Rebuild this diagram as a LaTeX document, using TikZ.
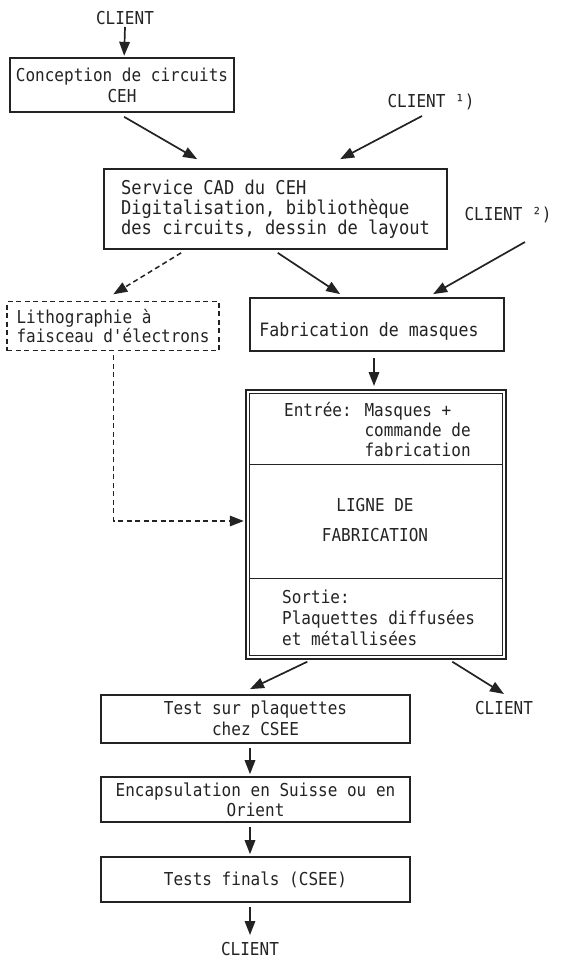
\documentclass[tikz,border=0pt]{standalone}
\usepackage{fontspec}
\newfontfamily\monofnt[FakeStretch=0.9]{DejaVu Sans Mono}
\usetikzlibrary{arrows.meta,calc}
\definecolor{ink}{RGB}{35,35,35}
\begin{document}
\begin{tikzpicture}[x=1pt,y=-1pt,
  every node/.style={text=ink},
  txt/.style={font=\monofnt\fontsize{17.8}{21}\selectfont, inner sep=0pt},
  boxn/.style={draw=ink, line width=1.7pt, font=\monofnt\fontsize{17.8}{21}\selectfont, align=center, inner sep=0pt},
  dbox/.style={draw=ink, line width=1.4pt, dash pattern=on 5pt off 3.5pt, font=\monofnt\fontsize{17.8}{19}\selectfont, align=left, inner sep=0pt},
  arr/.style={draw=ink, line width=1.7pt, -{Triangle[length=14pt,width=10.5pt]}},
  darr/.style={draw=ink, line width=1.5pt, dash pattern=on 5pt off 3.5pt, -{Triangle[length=14pt,width=10.5pt]}}
]
\useasboundingbox (0,0) rectangle (560,958);

% nodes
\node[txt] (cl0) at (125,18) {CLIENT};
\node[boxn, minimum width=224pt, minimum height=54pt] (b1) at (122,85.3) {Conception de circuits\\CEH};
\node[txt] (c1) at (431,102) {CLIENT ¹)};
\node[boxn, minimum width=343pt, minimum height=80pt, align=left,
      font=\monofnt\fontsize{19}{20}\selectfont] (b2) at (275.5,209)
  {Service CAD du CEH\\Digitalisation, bibliothèque\\des circuits, dessin de layout};
\node[txt] (c2) at (508,215) {CLIENT ²)};
\node[dbox, minimum width=212pt, minimum height=49pt] (litho) at (113,326.2)
  {Lithographie à\\faisceau d'électrons};
\node[draw=ink, line width=1.7pt, minimum width=254pt, minimum height=52.7pt] (mask) at (377,324.3) {};
\node[txt, font=\monofnt\fontsize{18.4}{21}\selectfont] (masktxt) at (369,331) {Fabrication de masques};

% fabrication line (double frame)
\node[draw=ink, line width=1.4pt, minimum width=260pt, minimum height=269pt, inner sep=0pt] (ligne) at (376,524.5) {};
\draw[ink, line width=1.4pt] ([shift={(4,4)}]ligne.north west) rectangle ([shift={(-4,-4)}]ligne.south east);
\draw[ink, line width=1.4pt] ([shift={(4,75)}]ligne.north west) -- ([shift={(-4,75)}]ligne.north east);
\draw[ink, line width=1.4pt] ([shift={(4,189.3)}]ligne.north west) -- ([shift={(-4,189.3)}]ligne.north east);
\node[txt, anchor=west, align=left, font=\monofnt\fontsize{17.8}{20}\selectfont] (entree) at (284,430)
  {Entrée: Masques +\\\phantom{Entrée: }commande de\\\phantom{Entrée: }fabrication};
\node[txt, align=center, font=\monofnt\fontsize{17.8}{30}\selectfont] (lignetxt) at (375,520) {LIGNE DE\\FABRICATION};
\node[txt, anchor=west, align=left, font=\monofnt\fontsize{17.8}{21}\selectfont] (sortie) at (282,618)
  {Sortie:\\Plaquettes diffusées\\et métallisées};

\node[txt] (clr) at (504,708) {CLIENT};
\node[boxn, minimum width=309pt, minimum height=47.7pt] (test) at (255.5,718.8) {Test sur plaquettes\\chez CSEE};
\node[boxn, minimum width=309pt, minimum height=45pt, font=\monofnt\fontsize{17.8}{19.5}\selectfont] (enc) at (255.5,799.8) {Encapsulation en Suisse ou en\\Orient};
\node[boxn, minimum width=309pt, minimum height=45.6pt] (fin) at (255.5,879.5) {Tests finals (CSEE)};
\node[txt] (cl3) at (250,949) {CLIENT};

% connectors
\draw[arr] ([shift={(0,9)}]cl0.center) -- ([shift={(115,-1.6)}]b1.north west);
\draw[arr] ([shift={(115,3.7)}]b1.south west) -- ([shift={(94,-9)}]b2.north west);
\draw[arr] ([shift={(-9,14)}]c1.center) -- ([shift={(237,-9)}]b2.north west);
\draw[arr] ([shift={(174.6,3)}]b2.south west) -- ([shift={(91,-3)}]mask.north west);
\draw[arr] ([shift={(17,27)}]c2.center) -- ([shift={(184,-3)}]mask.north west);
\draw[darr] ([shift={(78,3)}]b2.south west) -- ([shift={(107,-6.7)}]litho.north west);
\draw[arr] ([shift={(-3,6)}]mask.south) -- ([shift={(-2,-3.3)}]ligne.north);
\draw[darr] ([shift={(0.6,4)}]litho.south) |- ([shift={(-1.5,131.7)}]ligne.north west);
\draw[arr] ([shift={(62,2)}]ligne.south west) -- ([shift={(-5.5,-5)}]test.north);
\draw[arr] ([shift={(207,2)}]ligne.south west) -- ([shift={(0,-14)}]clr.center);
\draw[arr] ([shift={(-5.5,4)}]test.south) -- ([shift={(-5.5,-2.3)}]enc.north);
\draw[arr] ([shift={(-5.5,3.7)}]enc.south) -- ([shift={(-5.5,-1.7)}]fin.north);
\draw[arr] ([shift={(-5.5,3.7)}]fin.south) -- ([shift={(0,-14)}]cl3.center);
\end{tikzpicture}
\end{document}
